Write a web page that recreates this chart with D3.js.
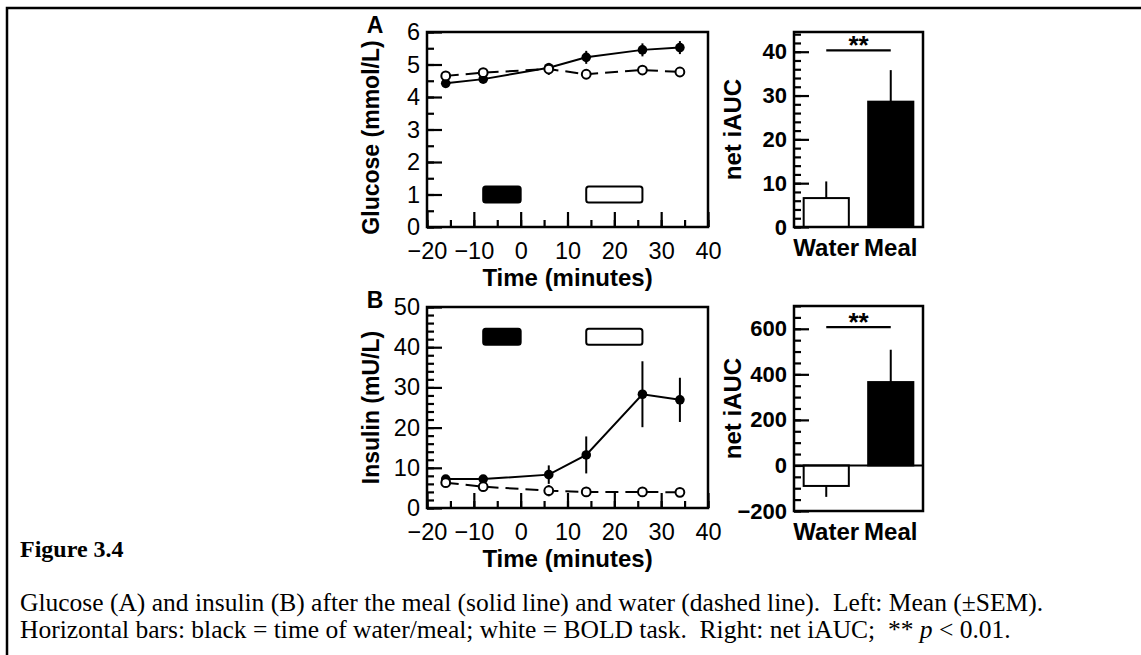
<!DOCTYPE html>
<html>
<head>
<meta charset="utf-8">
<script src="https://cdn.jsdelivr.net/npm/d3@7"></script>
<style>
  body { margin: 0; background: #fff; }
  svg { display: block; }
</style>
</head>
<body>
<div id="viz-container"></div>
<script>
let width = 1141;
let height = 655;

// time points (minutes)
let times = [-16, -8, 6, 14, 26, 34];
// glucose mmol/L
let glucoseMeal = [4.42, 4.55, 4.90, 5.22, 5.45, 5.52];
let glucoseMealSem = [0.1, 0.08, 0.15, 0.2, 0.2, 0.2];
let glucoseWater = [4.65, 4.75, 4.86, 4.70, 4.83, 4.77];
let glucoseWaterSem = [0.06, 0.06, 0.18, 0.06, 0.08, 0.06];
// insulin mU/L
let insulinMeal = [7.2, 7.2, 8.3, 13.2, 28.3, 26.9];
let insulinMealSem = [0.6, 0.6, 2.3, 4.6, 8.2, 5.5];
let insulinWater = [6.3, 5.3, 4.3, 4.0, 4.0, 3.9];
let insulinWaterSem = [1.0, 0.6, 1.4, 1.2, 1.2, 0.8];
// net iAUC
let groups = ['Water', 'Meal'];
let glucoseAuc = [6.6, 28.6];
let glucoseAucSem = [3.8, 7.2];
let insulinAuc = [-90, 366];
let insulinAucSem = [48, 142];
// horizontal bars (minutes)
let mealTime = [-8, 0];
let boldTask = [14, 26];
let glucoseBarLevel = 1;
let insulinBarLevel = 42.6;

let font = 'Liberation Sans, Arial, sans-serif';
let serif = 'Liberation Serif, Times New Roman, serif';

let viz = d3.select('#viz-container')
  .append('svg')
  .attr('id', 'viz')
  .attr('width', width)
  .attr('height', height);

// outer frame
viz.append('rect')
  .attr('x', 7).attr('y', 8)
  .attr('width', 1300).attr('height', 800)
  .attr('fill', 'none').attr('stroke', 'black').attr('stroke-width', 2.5);

function drawLinePanel(opt) {
  let x = d3.scaleLinear().domain([-20, 40]).range([427, 708]);
  let y = d3.scaleLinear().domain(opt.yDomain).range([opt.bottom, opt.top]);
  let g = viz.append('g');

  // minor ticks
  g.append('g').attr('transform', 'translate(0,' + opt.bottom + ')')
    .call(d3.axisBottom(x).tickValues(d3.range(-20, 41, 5)).tickSize(-7).tickFormat(''));
  g.append('g').attr('transform', 'translate(427,0)')
    .call(d3.axisLeft(y).tickValues(d3.range(opt.yDomain[0], opt.yDomain[1] + 0.001, opt.minor)).tickSize(-7).tickFormat(''));
  // major ticks
  let xa = g.append('g').attr('transform', 'translate(0,' + opt.bottom + ')')
    .call(d3.axisBottom(x).tickValues(d3.range(-20, 41, 10)).tickSize(-15).tickPadding(15));
  let ya = g.append('g').attr('transform', 'translate(427,0)')
    .call(d3.axisLeft(y).tickValues(d3.range(opt.yDomain[0], opt.yDomain[1] + 0.001, opt.major))
      .tickSize(-15).tickPadding(7).tickFormat(d3.format('d')));
  g.selectAll('.domain').remove();
  g.selectAll('.tick line').attr('stroke-width', 2.2);
  [xa, ya].forEach(a => a.selectAll('text')
    .attr('font-family', font).attr('font-size', 23.5).attr('fill', 'black'));

  // box
  g.append('rect')
    .attr('x', x(-20)).attr('y', opt.top)
    .attr('width', x(40) - x(-20)).attr('height', opt.bottom - opt.top)
    .attr('fill', 'none').attr('stroke', 'black').attr('stroke-width', 2.5);

  // horizontal bars
  [[mealTime, 'black'], [boldTask, 'white']].forEach(function(b) {
    g.append('rect')
      .attr('x', x(b[0][0])).attr('width', x(b[0][1]) - x(b[0][0]))
      .attr('y', y(opt.barLevel) - 8).attr('height', 16)
      .attr('rx', 2.5)
      .attr('fill', b[1]).attr('stroke', 'black').attr('stroke-width', 2);
  });

  let line = d3.line().x((d, i) => x(times[i])).y(d => y(d));

  // water (dashed, open)
  g.append('path').datum(opt.water).attr('d', line)
    .attr('fill', 'none').attr('stroke', 'black').attr('stroke-width', 2)
    .attr('stroke-dasharray', '13,7');
  // meal (solid, filled)
  g.append('path').datum(opt.meal).attr('d', line)
    .attr('fill', 'none').attr('stroke', 'black').attr('stroke-width', 2);

  g.selectAll('.errMeal').data(opt.meal).enter().append('line')
    .attr('x1', (d, i) => x(times[i])).attr('x2', (d, i) => x(times[i]))
    .attr('y1', (d, i) => y(d - opt.mealSem[i])).attr('y2', (d, i) => y(d + opt.mealSem[i]))
    .attr('stroke', 'black').attr('stroke-width', 2);
  g.selectAll('.errWater').data(opt.water).enter().append('line')
    .attr('x1', (d, i) => x(times[i])).attr('x2', (d, i) => x(times[i]))
    .attr('y1', (d, i) => y(d - opt.waterSem[i])).attr('y2', (d, i) => y(d + opt.waterSem[i]))
    .attr('stroke', 'black').attr('stroke-width', 2);

  g.selectAll('.ptMeal').data(opt.meal).enter().append('circle')
    .attr('cx', (d, i) => x(times[i])).attr('cy', d => y(d)).attr('r', 4.8)
    .attr('fill', 'black');
  g.selectAll('.ptWater').data(opt.water).enter().append('circle')
    .attr('cx', (d, i) => x(times[i])).attr('cy', d => y(d)).attr('r', 4.4)
    .attr('fill', 'white').attr('stroke', 'black').attr('stroke-width', 2);

  // titles
  g.append('text').text('Time (minutes)')
    .attr('x', (x(-20) + x(40)) / 2).attr('y', opt.bottom + 59)
    .attr('text-anchor', 'middle')
    .attr('font-family', font).attr('font-size', 24).attr('font-weight', 'bold');
  g.append('text').text(opt.yTitle)
    .attr('transform', 'translate(379,' + ((opt.top + opt.bottom) / 2 + opt.titleShift) + ') rotate(-90)')
    .attr('text-anchor', 'middle')
    .attr('font-family', font).attr('font-size', 23).attr('font-weight', 'bold');
  g.append('text').text(opt.letter)
    .attr('x', 375).attr('y', opt.top + 1)
    .attr('text-anchor', 'middle')
    .attr('font-family', font).attr('font-size', 23).attr('font-weight', 'bold');
}

function drawBarPanel(opt) {
  let x = d3.scaleBand().domain(groups).range([794, 923]).paddingInner(0.3).paddingOuter(0.15);
  let y = d3.scaleLinear().domain(opt.yDomain).range([opt.bottom, opt.top]);
  let g = viz.append('g');

  g.append('g').attr('transform', 'translate(794,0)')
    .call(d3.axisLeft(y).tickValues(d3.range(opt.minorStart, opt.yDomain[1] + 0.001, opt.minor)).tickSize(-7).tickFormat(''));
  let ya = g.append('g').attr('transform', 'translate(794,0)')
    .call(d3.axisLeft(y).tickValues(opt.ticks).tickSize(-15).tickPadding(7));
  let xa = g.append('g').attr('transform', 'translate(0,' + opt.bottom + ')')
    .call(d3.axisBottom(x).tickSize(0).tickPadding(12));
  g.selectAll('.domain').remove();
  g.selectAll('.tick line').attr('stroke-width', 2.2);
  ya.selectAll('text').attr('font-family', font).attr('font-size', 22)
    .attr('font-weight', 'bold').attr('fill', 'black');
  xa.selectAll('text').attr('font-family', font).attr('font-size', 24)
    .attr('font-weight', 'bold').attr('fill', 'black');

  // error bars (one-sided)
  g.selectAll('.err').data(opt.values).enter().append('line')
    .attr('x1', (d, i) => x(groups[i]) + x.bandwidth() / 2)
    .attr('x2', (d, i) => x(groups[i]) + x.bandwidth() / 2)
    .attr('y1', d => y(d))
    .attr('y2', (d, i) => y(d < 0 ? d - opt.sem[i] : d + opt.sem[i]))
    .attr('stroke', 'black').attr('stroke-width', 2);

  g.selectAll('.bar').data(opt.values).enter().append('rect')
    .attr('x', (d, i) => x(groups[i]))
    .attr('width', x.bandwidth())
    .attr('y', d => y(Math.max(0, d)))
    .attr('height', d => Math.abs(y(d) - y(0)))
    .attr('fill', (d, i) => i == 0 ? 'white' : 'black')
    .attr('stroke', 'black').attr('stroke-width', 2);

  // zero line
  g.append('line')
    .attr('x1', 794).attr('x2', 923).attr('y1', y(0)).attr('y2', y(0))
    .attr('stroke', 'black').attr('stroke-width', 2);

  // box
  g.append('rect')
    .attr('x', 794).attr('y', opt.top)
    .attr('width', 923 - 794).attr('height', opt.bottom - opt.top)
    .attr('fill', 'none').attr('stroke', 'black').attr('stroke-width', 2.5);

  // significance
  let sx1 = x('Water') + x.bandwidth() / 2;
  let sx2 = x('Meal') + x.bandwidth() / 2;
  g.append('line')
    .attr('x1', sx1).attr('x2', sx2).attr('y1', y(opt.sigLevel)).attr('y2', y(opt.sigLevel))
    .attr('stroke', 'black').attr('stroke-width', 2.2);
  g.append('text').text('**')
    .attr('x', (sx1 + sx2) / 2).attr('y', y(opt.sigLevel) + 4)
    .attr('text-anchor', 'middle')
    .attr('font-family', font).attr('font-size', 26).attr('font-weight', 'bold');

  g.append('text').text('net iAUC')
    .attr('transform', 'translate(741,' + (opt.top + opt.bottom) / 2 + ') rotate(-90)')
    .attr('text-anchor', 'middle')
    .attr('font-family', font).attr('font-size', 24).attr('font-weight', 'bold');
}

drawLinePanel({
  top: 32, bottom: 227, yDomain: [0, 6], major: 1, minor: 0.5,
  meal: glucoseMeal, mealSem: glucoseMealSem,
  water: glucoseWater, waterSem: glucoseWaterSem,
  barLevel: glucoseBarLevel, yTitle: 'Glucose (mmol/L)', letter: 'A', titleShift: 8
});
drawLinePanel({
  top: 307, bottom: 508, yDomain: [0, 50], major: 10, minor: 2,
  meal: insulinMeal, mealSem: insulinMealSem,
  water: insulinWater, waterSem: insulinWaterSem,
  barLevel: insulinBarLevel, yTitle: 'Insulin (mU/L)', letter: 'B', titleShift: 0
});
drawBarPanel({
  top: 32, bottom: 227, yDomain: [0, 44.5], ticks: [0, 10, 20, 30, 40],
  minorStart: 0, minor: 2, values: glucoseAuc, sem: glucoseAucSem, sigLevel: 40.3
});
drawBarPanel({
  top: 306, bottom: 511, yDomain: [-200, 700], ticks: [-200, 0, 200, 400, 600],
  minorStart: -200, minor: 50, values: insulinAuc, sem: insulinAucSem, sigLevel: 607
});

// caption
viz.append('text').text('Figure 3.4')
  .attr('x', 20).attr('y', 557)
  .attr('font-family', serif)
  .attr('font-size', 24).attr('font-weight', 'bold');

let cap = viz.append('text')
  .attr('font-family', serif)
  .attr('font-size', 25.5)
  .style('white-space', 'pre');
cap.append('tspan').attr('x', 20).attr('y', 611)
  .text('Glucose (A) and insulin (B) after the meal (solid line) and water (dashed line).  Left: Mean (\u00b1SEM).');
let l2 = cap.append('tspan').attr('x', 20).attr('y', 638);
l2.append('tspan').text('Horizontal bars: black = time of water/meal; white = BOLD task.  Right: net iAUC;  ** ');
l2.append('tspan').text('p').attr('font-style', 'italic');
l2.append('tspan').text(' < 0.01.');
</script>
</body>
</html>
